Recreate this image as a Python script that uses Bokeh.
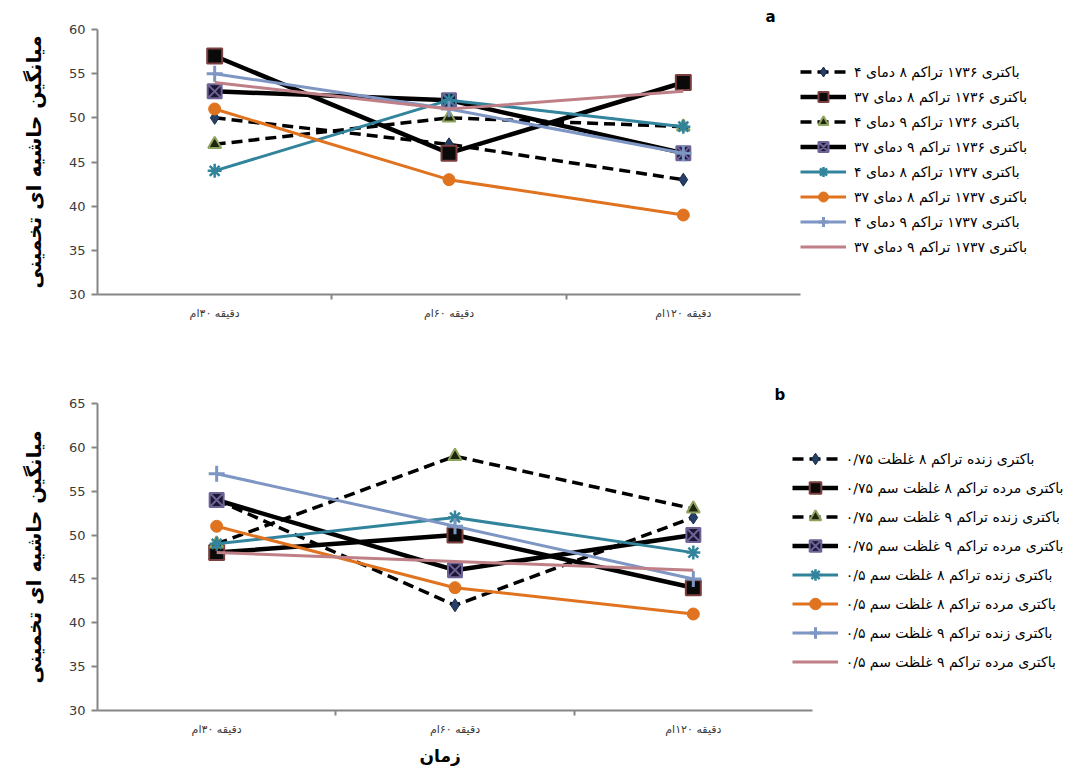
from bokeh.plotting import figure
from bokeh.layouts import column
from bokeh.models import Range1d, Legend, LegendItem, SingleIntervalTicker, FixedTicker, Title
from bokeh.embed import file_html
from bokeh.resources import INLINE

# ---------------- data ----------------
times = ["دقیقه ۳۰ام", "دقیقه ۶۰ام", "دقیقه ۱۲۰ام"]

labels_a = [
    "باکتری ۱۷۳۶ تراکم ۸ دمای ۴",
    "باکتری ۱۷۳۶ تراکم ۸ دمای ۳۷",
    "باکتری ۱۷۳۶ تراکم ۹ دمای ۴",
    "باکتری ۱۷۳۶ تراکم ۹ دمای ۳۷",
    "باکتری ۱۷۳۷ تراکم ۸ دمای ۴",
    "باکتری ۱۷۳۷ تراکم ۸ دمای ۳۷",
    "باکتری ۱۷۳۷ تراکم ۹ دمای ۴",
    "باکتری ۱۷۳۷ تراکم ۹ دمای ۳۷",
]
a_1736_c8_t4 = [50, 47, 43]
a_1736_c8_t37 = [57, 46, 54]
a_1736_c9_t4 = [47, 50, 49]
a_1736_c9_t37 = [53, 52, 46]
a_1737_c8_t4 = [44, 52, 49]
a_1737_c8_t37 = [51, 43, 39]
a_1737_c9_t4 = [55, 51, 46]
a_1737_c9_t37 = [54, 51, 53]

labels_b = [
    "باکتری زنده تراکم ۸ غلظت ۰/۷۵",
    "باکتری مرده تراکم ۸ غلظت سم ۰/۷۵",
    "باکتری زنده تراکم ۹ غلظت سم ۰/۷۵",
    "باکتری مرده تراکم ۹ غلظت سم ۰/۷۵",
    "باکتری زنده تراکم ۸ غلظت سم ۰/۵",
    "باکتری مرده تراکم ۸ غلظت سم ۰/۵",
    "باکتری زنده تراکم ۹ غلظت سم ۰/۵",
    "باکتری مرده تراکم ۹ غلظت سم ۰/۵",
]
b_live_c8_075 = [54, 42, 52]
b_dead_c8_075 = [48, 50, 44]
b_live_c9_075 = [49, 59, 53]
b_dead_c9_075 = [54, 46, 50]
b_live_c8_05 = [49, 52, 48]
b_dead_c8_05 = [51, 44, 41]
b_live_c9_05 = [57, 51, 45]
b_dead_c9_05 = [48, 47, 46]

y_axis_title = "میانگین حاشیه ای تخمینی"
x_axis_title = "زمان"

series_a = [a_1736_c8_t4, a_1736_c8_t37, a_1736_c9_t4, a_1736_c9_t37,
            a_1737_c8_t4, a_1737_c8_t37, a_1737_c9_t4, a_1737_c9_t37]
series_b = [b_live_c8_075, b_dead_c8_075, b_live_c9_075, b_dead_c9_075,
            b_live_c8_05, b_dead_c8_05, b_live_c9_05, b_dead_c9_05]

# ---------------- styles ----------------
STYLES = [
    dict(color="#000000", width=3.5, dash="11 6",
         marker="diamond", size=13, fill="#263f68", mline="#1a2b47", mlw=1),
    dict(color="#000000", width=4.5, dash="solid",
         marker="square", size=15, fill="#0a0a0a", mline="#7b3f3f", mlw=2),
    dict(color="#000000", width=3.5, dash="11 6",
         marker="triangle", size=13, fill="#1d2410", mline="#8fa35c", mlw=2),
    dict(color="#000000", width=4.5, dash="solid",
         marker="square_x", size=14, fill="#1b1733", mline="#6e6396", mlw=2),
    dict(color="#31849B", width=3, dash="solid",
         marker="asterisk", size=14, fill="#31849B", mline="#31849B", mlw=2.5),
    dict(color="#E0731F", width=3, dash="solid",
         marker="circle", size=12, fill="#E0731F", mline="#E0731F", mlw=1),
    dict(color="#7E96C4", width=3, dash="solid",
         marker="cross", size=16, fill="#7E96C4", mline="#7E96C4", mlw=3),
    dict(color="#BE7F86", width=3, dash="solid",
         marker=None),
]

FONT = "DejaVu Sans"
FIG_W = 1085


def make_fig(series, labels, ymin, ymax, frame_h, border_top, border_bottom,
             border_left, cat_w, title, title_offset, title_standoff,
             legend_loc, legend_pitch, show_xtitle):
    xs = list(range(len(times)))
    n = len(times)
    frame_w = FIG_W - border_left
    x_end = -0.5 + frame_w * n / cat_w
    p = figure(x_range=Range1d(-0.5, x_end), y_range=Range1d(ymin, ymax),
               frame_width=frame_w, frame_height=frame_h, output_backend="svg",
               toolbar_location=None, min_border_left=border_left,
               min_border_right=0,
               min_border_top=border_top, min_border_bottom=border_bottom,
               title=title)
    p.title.align = "left"
    p.title.offset = title_offset
    p.title.text_font = FONT
    p.title.text_font_size = "15px"
    p.title.text_font_style = "bold"
    p.title.text_color = "#000000"
    p.title.standoff = title_standoff
    p.outline_line_color = None
    p.xgrid.grid_line_color = None
    p.ygrid.grid_line_color = None

    for ax in (p.xaxis[0], p.yaxis[0]):
        ax.axis_line_color = "#868686"
        ax.axis_line_width = 2
        ax.major_tick_line_color = "#868686"
        ax.major_tick_line_width = 2
        ax.major_label_text_font = FONT
        ax.major_label_text_color = "#3a3a3a"

    p.yaxis.ticker = SingleIntervalTicker(interval=5)
    p.yaxis.minor_tick_line_color = None
    p.yaxis.major_tick_out = 6
    p.yaxis.major_tick_in = 0
    p.yaxis.major_label_text_font_size = "13px"
    p.yaxis.major_label_standoff = 6
    p.yaxis.axis_label = y_axis_title
    p.yaxis.axis_label_text_font = FONT
    p.yaxis.axis_label_text_font_size = "20px"
    p.yaxis.axis_label_text_font_style = "bold"
    p.yaxis.axis_label_text_color = "#000000"
    p.yaxis.axis_label_standoff = 20

    p.xaxis.bounds = (-0.5, n - 0.5)
    p.xaxis.ticker = FixedTicker(ticks=xs, minor_ticks=[i + 0.5 for i in xs[:-1]])
    p.xaxis.major_label_overrides = {i: t for i, t in zip(xs, times)}
    p.xaxis.major_tick_line_color = None
    p.xaxis.minor_tick_line_color = "#868686"
    p.xaxis.minor_tick_line_width = 2
    p.xaxis.minor_tick_out = 5
    p.xaxis.minor_tick_in = 0
    p.xaxis.major_label_text_font_size = "11px"
    p.xaxis.major_label_standoff = 6
    if show_xtitle:
        xt = Title(text=x_axis_title, align="left", offset=322,
                   text_font=FONT, text_font_size="17px", text_font_style="bold",
                   text_color="#000000", standoff=10)
        p.add_layout(xt, "below")

    items = []
    for vals, lab, st in zip(series, labels, STYLES):
        rs = []
        rs.append(p.line(xs, vals, line_color=st["color"], line_width=st["width"],
                         line_dash=st["dash"]))
        if st["marker"]:
            rs.append(p.scatter(xs, vals, marker=st["marker"], size=st["size"],
                                fill_color=st["fill"], line_color=st["mline"],
                                line_width=st["mlw"]))
        items.append(LegendItem(label=lab, renderers=rs))

    legend = Legend(items=items, location=legend_loc)
    legend.border_line_color = None
    legend.background_fill_alpha = 0
    legend.glyph_width = 46
    legend.glyph_height = legend_pitch
    legend.label_height = legend_pitch
    legend.label_standoff = 8
    legend.spacing = 0
    legend.padding = 4
    legend.margin = 0
    legend.label_text_font = FONT
    legend.label_text_font_size = "14px"
    legend.label_text_color = "#000000"
    p.add_layout(legend)
    return p


pa = make_fig(series_a, labels_a, 30, 60, frame_h=265, border_top=29, border_bottom=40,
              border_left=97, cat_w=703, title="a", title_offset=668, title_standoff=7,
              legend_loc=(703, 35), legend_pitch=25, show_xtitle=False)
pb = make_fig(series_b, labels_b, 30, 65, frame_h=307, border_top=69, border_bottom=56,
              border_left=90, cat_w=715, title="b", title_offset=677, title_standoff=0,
              legend_loc=(709, 34), legend_pitch=29, show_xtitle=True)

layout = column(pa, pb, spacing=0)
open("out.html", "w").write(file_html(layout, INLINE))
